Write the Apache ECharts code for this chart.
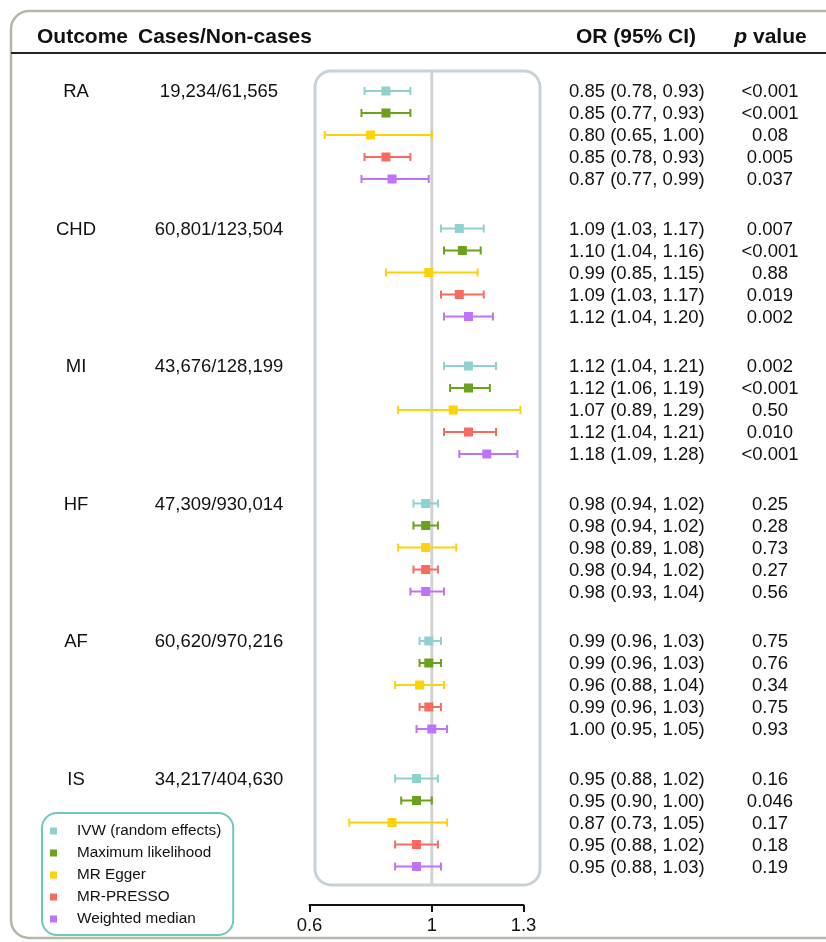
<!DOCTYPE html>
<html><head><meta charset="utf-8">
<script src="https://cdn.jsdelivr.net/npm/echarts@6/dist/echarts.min.js"></script>
<style>html,body{margin:0;padding:0;background:#fff}#c{width:826px;height:942px}</style>
</head><body><div id="c"></div>
<script>
// ---------- data ----------
const outcomes = ['RA', 'CHD', 'MI', 'HF', 'AF', 'IS'];
const casesNonCases = ['19,234/61,565', '60,801/123,504', '43,676/128,199', '47,309/930,014', '60,620/970,216', '34,217/404,630'];
const methods = ['IVW (random effects)', 'Maximum likelihood', 'MR Egger', 'MR-PRESSO', 'Weighted median'];
const methodColors = ['#8ed1cd', '#6aa11d', '#fcd20a', '#f96b61', '#bf73f8'];

// per method, values in outcome order RA, CHD, MI, HF, AF, IS
const orIVW    = [0.85, 1.09, 1.12, 0.98, 0.99, 0.95];
const loIVW    = [0.78, 1.03, 1.04, 0.94, 0.96, 0.88];
const hiIVW    = [0.93, 1.17, 1.21, 1.02, 1.03, 1.02];
const pIVW     = ['<0.001', '0.007', '0.002', '0.25', '0.75', '0.16'];

const orML     = [0.85, 1.10, 1.12, 0.98, 0.99, 0.95];
const loML     = [0.77, 1.04, 1.06, 0.94, 0.96, 0.90];
const hiML     = [0.93, 1.16, 1.19, 1.02, 1.03, 1.00];
const pML      = ['<0.001', '<0.001', '<0.001', '0.28', '0.76', '0.046'];

const orEgger  = [0.80, 0.99, 1.07, 0.98, 0.96, 0.87];
const loEgger  = [0.65, 0.85, 0.89, 0.89, 0.88, 0.73];
const hiEgger  = [1.00, 1.15, 1.29, 1.08, 1.04, 1.05];
const pEgger   = ['0.08', '0.88', '0.50', '0.73', '0.34', '0.17'];

const orPRESSO = [0.85, 1.09, 1.12, 0.98, 0.99, 0.95];
const loPRESSO = [0.78, 1.03, 1.04, 0.94, 0.96, 0.88];
const hiPRESSO = [0.93, 1.17, 1.21, 1.02, 1.03, 1.02];
const pPRESSO  = ['0.005', '0.019', '0.010', '0.27', '0.75', '0.18'];

const orWM     = [0.87, 1.12, 1.18, 0.98, 1.00, 0.95];
const loWM     = [0.77, 1.04, 1.09, 0.93, 0.95, 0.88];
const hiWM     = [0.99, 1.20, 1.28, 1.04, 1.05, 1.03];
const pWM      = ['0.037', '0.002', '<0.001', '0.56', '0.93', '0.19'];

const xTicks = [0.6, 1, 1.3];

// ---------- build ----------
const methodOR = [orIVW, orML, orEgger, orPRESSO, orWM];
const methodLo = [loIVW, loML, loEgger, loPRESSO, loWM];
const methodHi = [hiIVW, hiML, hiEgger, hiPRESSO, hiWM];
const methodP  = [pIVW, pML, pEgger, pPRESSO, pWM];

const FONT = '"Liberation Sans", Arial, Helvetica, sans-serif';
const GROUP_STEP = 6.25;
const rowPos = (g, m) => g * GROUP_STEP + m;

const chart = echarts.init(document.getElementById('c'), null, { renderer: 'canvas' });

function renderBar(params, api) {
  const yv = api.value(3);
  const pOr = api.coord([api.value(0), yv]);
  const pLo = api.coord([api.value(1), yv]);
  const pHi = api.coord([api.value(2), yv]);
  const y0 = pOr[1];
  const color = api.visual('color');
  const st = { stroke: color, lineWidth: 2 };
  return {
    type: 'group',
    children: [
      { type: 'line', shape: { x1: pLo[0], y1: y0, x2: pHi[0], y2: y0 }, style: st },
      { type: 'line', shape: { x1: pLo[0], y1: y0 - 4, x2: pLo[0], y2: y0 + 4 }, style: st },
      { type: 'line', shape: { x1: pHi[0], y1: y0 - 4, x2: pHi[0], y2: y0 + 4 }, style: st },
      { type: 'rect', shape: { x: pOr[0] - 4.5, y: y0 - 4.5, width: 9, height: 9 }, style: { fill: color } }
    ]
  };
}

const fmt = v => v.toFixed(2);
const textRows = [];
outcomes.forEach((o, g) => {
  methods.forEach((mName, m) => {
    textRows.push({
      y: rowPos(g, m),
      orText: fmt(methodOR[m][g]) + ' (' + fmt(methodLo[m][g]) + ', ' + fmt(methodHi[m][g]) + ')',
      pText: methodP[m][g],
      outcome: m === 0 ? o : '',
      cases: m === 0 ? casesNonCases[g] : ''
    });
  });
});

function renderText(params, api) {
  const r = textRows[params.dataIndex];
  const y0 = api.coord([1, api.value(1)])[1] + 1;
  const base = { fill: '#111', font: '18.5px ' + FONT, textVerticalAlign: 'middle' };
  const ch = [
    { type: 'text', style: Object.assign({ x: 569, y: y0, text: r.orText, textAlign: 'left' }, base) },
    { type: 'text', style: Object.assign({ x: 770, y: y0, text: r.pText, textAlign: 'center' }, base) }
  ];
  if (r.outcome) {
    ch.push({ type: 'text', style: Object.assign({ x: 76, y: y0, text: r.outcome, textAlign: 'center' }, base) });
    ch.push({ type: 'text', style: Object.assign({ x: 219, y: y0, text: r.cases, textAlign: 'center' }, base) });
  }
  return { type: 'group', children: ch };
}

const series = methods.map((name, m) => ({
  name: name,
  type: 'custom',
  renderItem: renderBar,
  itemStyle: { color: methodColors[m] },
  encode: { x: [0, 1, 2], y: 3 },
  data: outcomes.map((o, g) => [methodOR[m][g], methodLo[m][g], methodHi[m][g], rowPos(g, m)]),
  z: 5,
  silent: true
}));
series.push({
  name: 'text',
  type: 'custom',
  renderItem: renderText,
  encode: { x: 0, y: 1 },
  data: textRows.map(r => [1, r.y]),
  silent: true,
  z: 5
});

const option = {
  animation: false,
  backgroundColor: '#fff',
  textStyle: { fontFamily: FONT },
  grid: { left: 309.5, width: 214, top: 69, height: 836, containLabel: false },
  xAxis: {
    type: 'value', min: 0.6, max: 1.3, position: 'bottom',
    axisLine: { show: true, onZero: false, lineStyle: { color: '#111', width: 2 } },
    axisTick: { show: true, customValues: xTicks, length: 7, lineStyle: { color: '#111', width: 2 } },
    axisLabel: { show: true, customValues: xTicks, formatter: v => String(v), fontSize: 18.5, color: '#111', margin: 11, fontFamily: FONT },
    splitLine: { show: false }
  },
  yAxis: { type: 'value', inverse: true, min: -1, max: 37, show: false },
  legend: {
    data: methods,
    orient: 'vertical',
    left: 42, top: 813,
    icon: 'rect',
    itemWidth: 7, itemHeight: 7,
    itemGap: 6,
    padding: [10, 12, 8, 8],
    borderColor: '#6dc8bd', borderWidth: 2, borderRadius: 15,
    textStyle: { fontSize: 15.3, color: '#111', fontFamily: FONT, lineHeight: 16, padding: [0, 0, 0, 15] },
    selectedMode: false
  },
  graphic: [],
  series: series
};
chart.setOption(option);

const xRef = chart.convertToPixel({ xAxisIndex: 0 }, 1);
chart.setOption({
  graphic: [
    { type: 'rect', z: -10, shape: { x: 11, y: 11, width: 900, height: 927, r: 18 }, style: { fill: 'none', stroke: '#b5b5a9', lineWidth: 2.5 } },
    { type: 'line', z: 1, shape: { x1: 11, y1: 53, x2: 826, y2: 53 }, style: { stroke: '#222', lineWidth: 2 } },
    { type: 'rect', z: 1, shape: { x: 315, y: 71, width: 225, height: 814, r: 16 }, style: { fill: 'none', stroke: '#c8d0d8', lineWidth: 3 } },
    { type: 'line', z: 1, shape: { x1: xRef, y1: 71, x2: xRef, y2: 885 }, style: { stroke: '#d2d2d2', lineWidth: 3 } },
    { type: 'text', z: 3, style: { x: 37, y: 37, text: 'Outcome', font: 'bold 21px ' + FONT, fill: '#111', textVerticalAlign: 'middle', textAlign: 'left' } },
    { type: 'text', z: 3, style: { x: 138, y: 37, text: 'Cases/Non-cases', font: 'bold 21px ' + FONT, fill: '#111', textVerticalAlign: 'middle', textAlign: 'left' } },
    { type: 'text', z: 3, style: { x: 636, y: 37, text: 'OR (95% CI)', font: 'bold 21px ' + FONT, fill: '#111', textVerticalAlign: 'middle', textAlign: 'center' } },
    { type: 'text', z: 3, style: { x: 770.5, y: 37, text: '{i|p} value', font: 'bold 21px ' + FONT, fill: '#111', textVerticalAlign: 'middle', textAlign: 'center',
      rich: { i: { fontStyle: 'italic', fontWeight: 'bold', fontSize: 21, fontFamily: FONT, fill: '#111' } } } }
  ]
});
</script></body></html>
